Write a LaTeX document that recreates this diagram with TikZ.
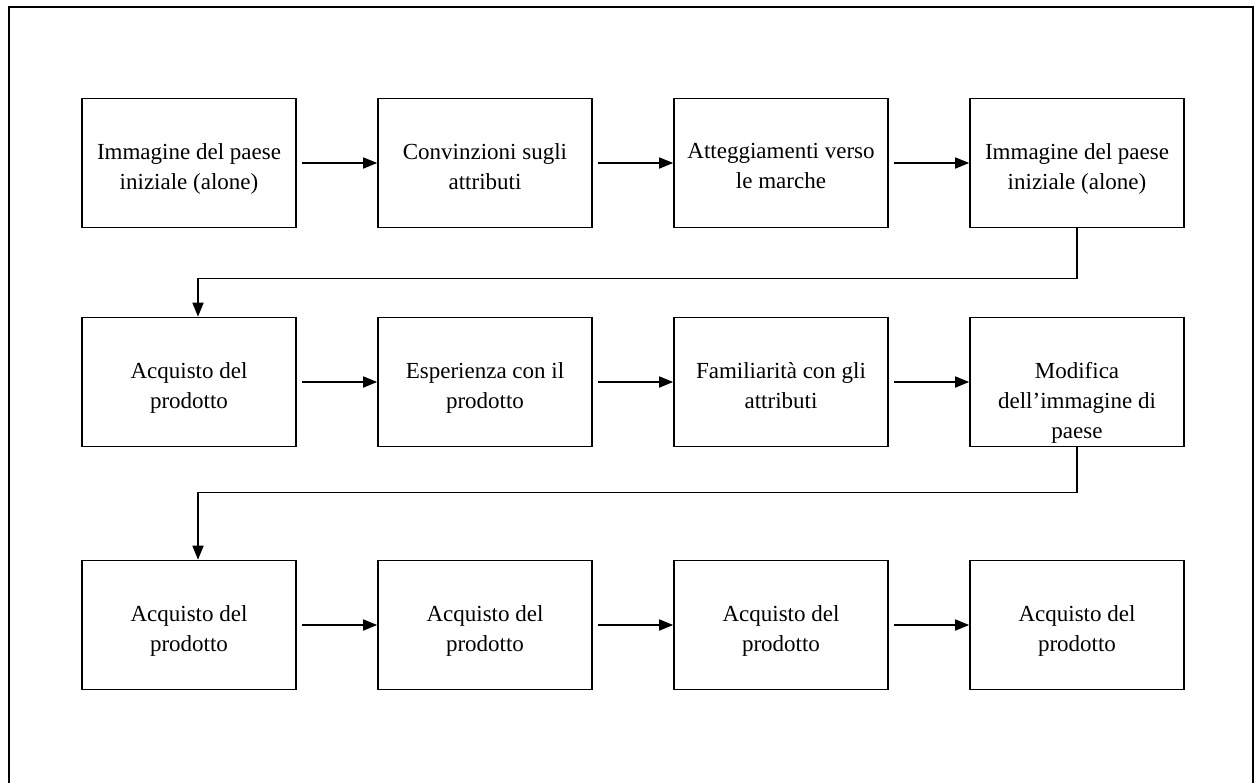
\documentclass[tikz,border=0pt]{standalone}
\usepackage{fontspec}
\setmainfont{Liberation Serif}
\usetikzlibrary{arrows.meta}

\begin{document}
\begin{tikzpicture}[x=1pt, y=1pt, ->, >={Triangle[length=14pt,width=11pt]}, node distance=296pt, line width=1.6pt,
  stage/.style={rectangle, draw, minimum width=214pt, minimum height=129pt},
  txt/.style={anchor=north, yshift=-45pt, inner sep=0pt, align=center, font=\fontsize{23}{30}\selectfont}]
\clip (0,0) rectangle (1255,-782);
\draw[-, line width=2.8pt] (9,-7) rectangle (1253,-830);

\node[stage, label={[txt]north:Immagine del paese\\iniziale (alone)}] (A1) at (189,-163) {};
\node[stage, right of=A1, label={[txt]north:Convinzioni sugli\\attributi}] (A2) {};
\node[stage, right of=A2, label={[txt]north:Atteggiamenti verso\\le marche}] (A3) {};
\node[stage, right of=A3, label={[txt]north:Immagine del paese\\iniziale (alone)}] (A4) {};

\node[stage, label={[txt]north:Acquisto del\\prodotto}] (B1) at (189,-382) {};
\node[stage, right of=B1, label={[txt]north:Esperienza con il\\prodotto}] (B2) {};
\node[stage, right of=B2, label={[txt]north:Familiarità con gli\\attributi}] (B3) {};
\node[stage, right of=B3, label={[txt]north:Modifica\\dell’immagine di\\paese}] (B4) {};

\node[stage, label={[txt]north:Acquisto del\\prodotto}] (C1) at (189,-625) {};
\node[stage, right of=C1, label={[txt]north:Acquisto del\\prodotto}] (C2) {};
\node[stage, right of=C2, label={[txt]north:Acquisto del\\prodotto}] (C3) {};
\node[stage, right of=C3, label={[txt]north:Acquisto del\\prodotto}] (C4) {};

\path[shorten <=5pt] (A1) edge (A2);
\path[shorten <=5pt] (A2) edge (A3);
\path[shorten <=5pt] (A3) edge (A4);
\path[shorten <=5pt] (B1) edge (B2);
\path[shorten <=5pt] (B2) edge (B3);
\path[shorten <=5pt] (B3) edge (B4);
\path[shorten <=5pt] (C1) edge (C2);
\path[shorten <=5pt] (C2) edge (C3);
\path[shorten <=5pt] (C3) edge (C4);

\draw (A4.south) -- ++(0,-50) -| ([xshift=9pt]B1.north);
\draw (B4.south) -- ++(0,-45) -| ([xshift=9pt]C1.north);
\end{tikzpicture}
\end{document}
